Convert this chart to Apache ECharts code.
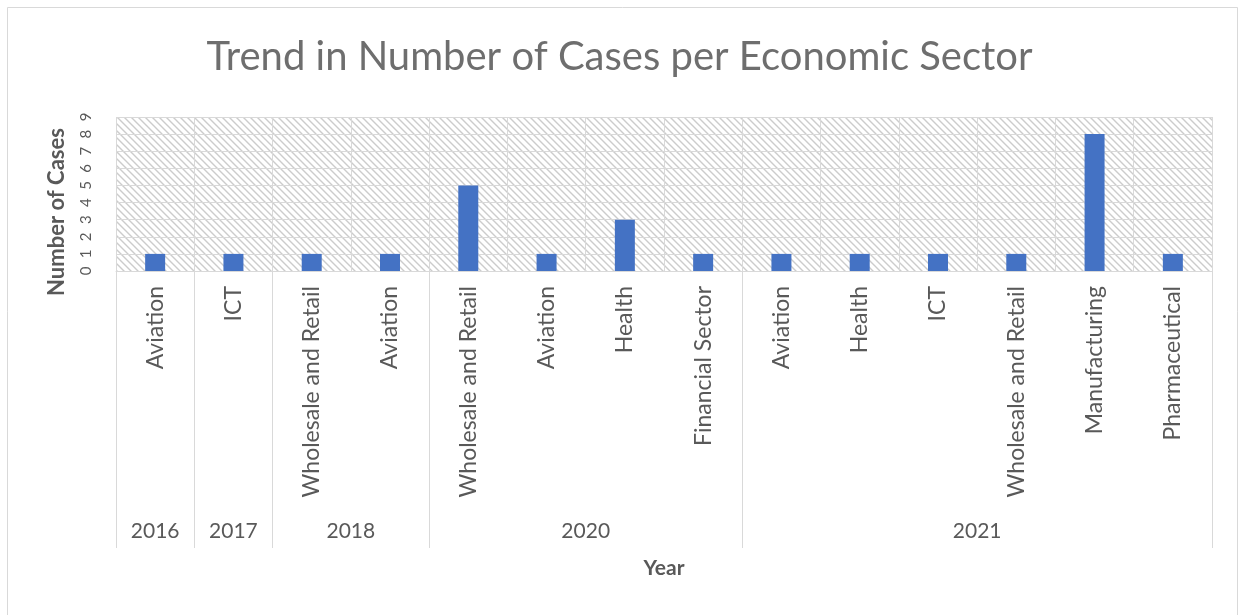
<!DOCTYPE html>
<html>
<head>
<meta charset="utf-8">
<script src="https://cdn.jsdelivr.net/npm/echarts@6/dist/echarts.min.js"></script>
<style>
html,body{margin:0;padding:0;background:#fff;}
#chart{width:1239px;height:615px;}
</style>
</head>
<body>
<div id="chart"></div>
<script>
// ---- data ----
var sectors = ['Aviation','ICT','Wholesale and Retail','Aviation','Wholesale and Retail','Aviation','Health','Financial Sector','Aviation','Health','ICT','Wholesale and Retail','Manufacturing','Pharmaceutical'];
var cases = [1,1,1,1,5,1,3,1,1,1,1,1,8,1];
var years = ['2016','2017','2018','2020','2021'];
var yearCounts = [1,1,2,4,6];
var yTicks = [0,1,2,3,4,5,6,7,8,9];

// group boundaries and centers (in category units)
var bounds = [0], centers = [], acc = 0;
yearCounts.forEach(function(c){ centers.push(acc + c/2); acc += c; bounds.push(acc); });

// hatch pattern
var pc = document.createElement('canvas');
pc.width = 7; pc.height = 7;
var g = pc.getContext('2d');
g.fillStyle = '#ffffff'; g.fillRect(0,0,7,7);
g.strokeStyle = '#cccccc'; g.lineWidth = 1.4;
g.beginPath();
g.moveTo(-1,-1); g.lineTo(8,8);
g.moveTo(-1,6); g.lineTo(1,8);
g.moveTo(6,-1); g.lineTo(8,1);
g.stroke();

var font = 'Lato, "Open Sans", sans-serif';
var grey = '#595959';
var lineC = '#d9d9d9';

var chart = echarts.init(document.getElementById('chart'), null, {renderer:'canvas'});
chart.setOption({
  animation: false,
  backgroundColor: '#ffffff',
  title: {
    text: 'Trend in Number of Cases per Economic Sector',
    left: 'center', top: 32,
    textStyle: {fontFamily: font, fontSize: 40, fontWeight: 'normal', color: '#6e6e6e'}
  },
  graphic: [{
    type: 'rect', silent: true, z: -1,
    shape: {x: 7.5, y: 7.5, width: 1230, height: 640},
    style: {fill: 'none', stroke: lineC, lineWidth: 1}
  }],
  grid: {
    left: 116, right: 27, top: 117, bottom: 344,
    show: true, borderWidth: 0,
    backgroundColor: {image: pc, repeat: 'repeat'}
  },
  xAxis: [{
    type: 'category',
    data: sectors,
    axisLine: {show: true, lineStyle: {color: lineC, width: 1}},
    axisTick: {show: false},
    splitLine: {show: true, lineStyle: {color: lineC, width: 1}},
    axisLabel: {rotate: 90, margin: 15, interval: 0, fontFamily: font, fontSize: 23, color: grey}
  }, {
    type: 'value',
    min: 0, max: sectors.length,
    position: 'bottom',
    name: 'Year', nameLocation: 'middle', nameGap: 287,
    nameTextStyle: {fontFamily: font, fontSize: 21, fontWeight: 'bold', color: grey},
    axisLine: {show: false},
    splitLine: {show: false},
    axisTick: {show: true, length: 277, customValues: bounds, lineStyle: {color: lineC, width: 1}},
    axisLabel: {
      customValues: centers, margin: 250, fontFamily: font, fontSize: 21, color: grey,
      formatter: function(v){ var i = centers.indexOf(v); return i >= 0 ? years[i] : ''; }
    }
  }],
  yAxis: {
    type: 'value', min: 0, max: yTicks[yTicks.length-1], interval: 1,
    name: 'Number of Cases', nameLocation: 'middle', nameGap: 48,
    nameTextStyle: {fontFamily: font, fontSize: 22, fontWeight: 'bold', color: grey, padding: [0, 36, 0, 0]},
    axisLine: {show: false}, axisTick: {show: false},
    splitLine: {show: true, lineStyle: {color: lineC, width: 1}},
    axisLabel: {rotate: 90, margin: 22, fontFamily: font, fontSize: 15, color: grey}
  },
  series: [{
    type: 'bar',
    data: cases,
    barWidth: 20,
    itemStyle: {color: '#4472C4'},
    xAxisIndex: 0
  }]
});
</script>
</body>
</html>
